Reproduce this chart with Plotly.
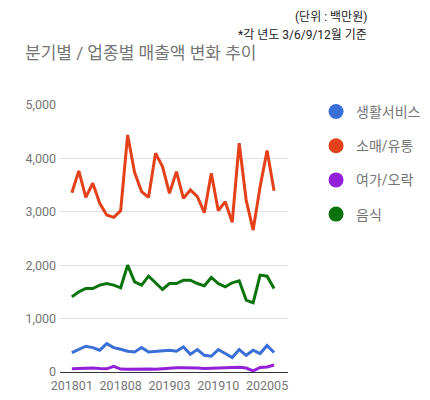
import plotly.graph_objects as go

# months 201801 ~ 202006
months = []
for y in (2018, 2019, 2020):
    for m in range(1, 13):
        months.append("%d%02d" % (y, m))
months = months[:30]

tick_labels = ["201801", "201808", "201903", "201910", "202005"]

names = ["생활서비스", "소매/유통", "여가/오락", "음식"]
colors = ["#3a6fd8", "#e4411b", "#9320d8", "#0b730b"]

living = [364, 426, 483, 457, 408, 532, 457, 426, 388, 376, 457, 376, 388, 408, 408,
          388, 470, 333, 420, 313, 295, 420, 345, 270, 420, 313, 408, 345, 495, 364]
retail = [3358, 3766, 3271, 3535, 3159, 2940, 2896, 3021, 4440, 3734, 3378, 3271, 4097, 3847, 3346,
          3752, 3253, 3409, 3283, 2984, 3722, 3021, 3190, 2802, 4284, 3221, 2658, 3471, 4147, 3396]
leisure = [60, 65, 75, 75, 65, 60, 105, 55, 50, 55, 60, 55, 50, 60, 80,
           80, 80, 80, 75, 65, 70, 75, 80, 80, 90, 75, 20, 85, 95, 130]
food = [1407, 1502, 1564, 1564, 1627, 1657, 1627, 1577, 2002, 1689, 1627, 1795, 1671, 1545, 1657,
        1657, 1720, 1720, 1657, 1614, 1771, 1657, 1596, 1671, 1708, 1346, 1295, 1815, 1795, 1564]

series = [living, retail, leisure, food]

fig = go.Figure()
for name, vals, c in zip(names, series, colors):
    fig.add_trace(go.Scatter(x=months, y=vals, mode="lines", name=name,
                             line=dict(color=c, width=3), showlegend=False))
    # legend-only marker
    fig.add_trace(go.Scatter(x=[None], y=[None], mode="markers", name=name,
                             legendgroup=name,
                             marker=dict(color=c, size=15, symbol="circle")))

grey = "#757575"
# page has an 8px body margin, so everything is placed 8px up/left
fig.update_layout(
    width=430, height=400,
    margin=dict(l=52, r=148, t=97, b=36),
    paper_bgcolor="white", plot_bgcolor="white",
    font=dict(family="Roboto, 'Noto Sans CJK KR', sans-serif", color=grey),
    title=dict(text="분기별 / 업종별 매출액 변화 추이", xref="container", x=17 / 430,
               yref="container", y=1 - 45 / 400, yanchor="middle", xanchor="left",
               font=dict(size=17, color=grey)),
    legend=dict(x=1.123, y=1.034, xanchor="left", yanchor="top",
                font=dict(size=14, color=grey), tracegroupgap=13,
                itemsizing="trace", bgcolor="rgba(0,0,0,0)"),
    annotations=[
        dict(text="(단위 : 백만원)", xref="paper", yref="paper", x=(364 - 52) / 230,
             y=1 + (97 - 9) / 267, xanchor="right", yanchor="middle",
             showarrow=False, font=dict(size=12, color="#222222")),
        dict(text="*각 년도 3/6/9/12월 기준", xref="paper", yref="paper", x=(364 - 52) / 230,
             y=1 + (97 - 27) / 267, xanchor="right", yanchor="middle",
             showarrow=False, font=dict(size=12, color="#222222")),
    ],
)
fig.update_xaxes(type="category", tickmode="array", tickvals=tick_labels, ticktext=tick_labels,
                 range=[-1.7, 31.0], showgrid=False, showline=False, zeroline=False,
                 ticks="", tickfont=dict(size=12.5, color=grey), ticklabelstandoff=4)
fig.update_yaxes(range=[0, 5000], tickvals=[0, 1000, 2000, 3000, 4000, 5000],
                 tickformat=",", gridcolor="#e0e0e0", zeroline=True, zerolinecolor="#333333",
                 zerolinewidth=1, showline=False, tickfont=dict(size=12.5, color=grey),
                 ticklabelstandoff=3)

fig.write_html("out.html")
